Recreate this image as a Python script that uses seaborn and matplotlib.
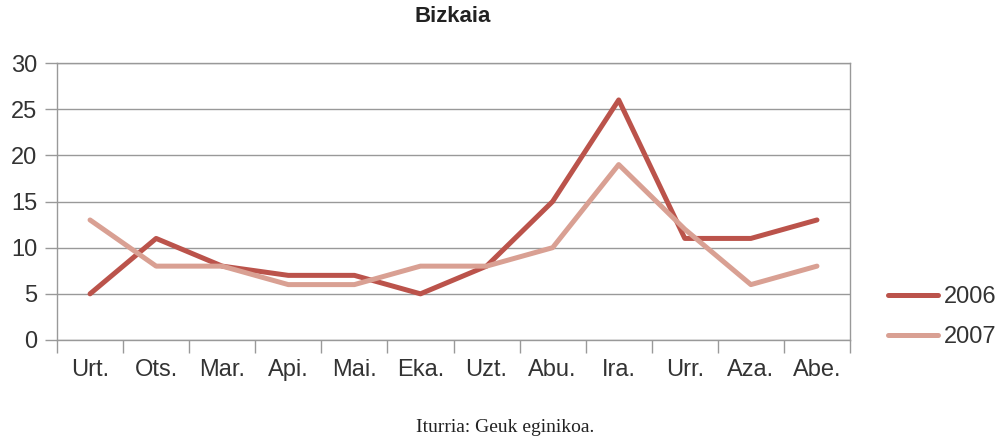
import matplotlib
matplotlib.use("Agg")
import matplotlib.pyplot as plt
import seaborn as sns
import pandas as pd
import numpy as np
from matplotlib.lines import Line2D

months = ["Urt.", "Ots.", "Mar.", "Api.", "Mai.", "Eka.", "Uzt.", "Abu.", "Ira.", "Urr.", "Aza.", "Abe."]
values_2006 = [5, 11, 8, 7, 7, 5, 8, 15, 26, 11, 11, 13]
values_2007 = [13, 8, 8, 6, 6, 8, 8, 10, 19, 12, 6, 8]
series = ["2006", "2007"]
colors = ["#BB534B", "#D9A093"]
yticks = [0, 5, 10, 15, 20, 25, 30]

df = pd.DataFrame({
    "month": months * 2,
    "value": values_2006 + values_2007,
    "year": [series[0]] * len(months) + [series[1]] * len(months),
})
df["x"] = list(range(len(months))) * 2

sns.set_theme(style="white")
plt.rcParams["font.family"] = ["Liberation Sans", "DejaVu Sans"]

fig = plt.figure(figsize=(10.02, 4.42), dpi=100)
ax = fig.add_axes([57/1002, 1 - 340/442, (850-57)/1002, (340-63)/442])

sns.lineplot(data=df, x="x", y="value", hue="year", palette=colors,
             linewidth=3.6, ax=ax, legend=False, sort=False)

ax.set_xlim(-0.5, len(months) - 0.5)
ax.set_ylim(0, 30)
ax.set_yticks(yticks)
ax.set_yticklabels([str(v) for v in yticks], fontsize=17, color="#333333")
ax.set_xticks(range(len(months)))
ax.set_xticklabels(months, fontsize=17, color="#333333")
ax.set_xticks(np.arange(-0.5, len(months), 1.0), minor=True)
ax.tick_params(axis="x", which="major", length=0, pad=14)
ax.tick_params(axis="x", which="minor", length=9, color="#999999", width=1, direction="out", bottom=True)
ax.tick_params(axis="y", length=9, color="#999999", width=1, direction="out", left=True, pad=5)
ax.set_xlabel("")
ax.set_ylabel("")
ax.grid(axis="y", color="#999999", linewidth=1)
ax.set_axisbelow(True)
for s in ax.spines.values():
    s.set_color("#999999")
    s.set_linewidth(1)

handles = [Line2D([], [], color=c, linewidth=3.6) for c in colors]
fig.legend(handles, series, loc="center left", bbox_to_anchor=(888/1002, 1 - 317/442),
           frameon=False, fontsize=17, handlelength=2.1, labelspacing=0.75,
           handletextpad=0.25, labelcolor="#333333", borderpad=0, borderaxespad=0)

fig.text(453/1002, 1 - 17/442, "Bizkaia", ha="center", va="center",
         fontsize=16, fontweight="bold", color="#222222")
fig.text(505/1002, 1 - 427/442, "Iturria: Geuk eginikoa.", ha="center", va="center",
         fontsize=14, family=["Liberation Serif", "DejaVu Serif"], color="#222222")

fig.savefig("out.png", dpi=100)
